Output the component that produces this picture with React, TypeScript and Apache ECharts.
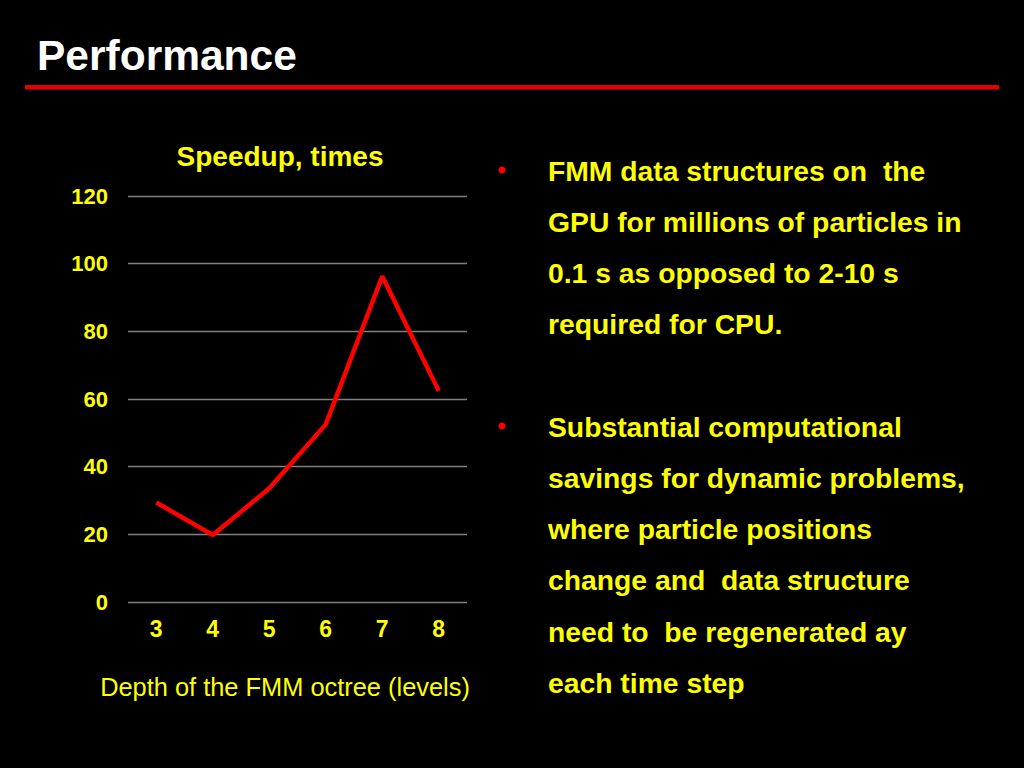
import React, { useEffect, useRef } from "react";
import * as echarts from "echarts";

const categories = ["3", "4", "5", "6", "7", "8"];
const speedup = [29.4, 19.8, 33.6, 52.5, 96.3, 62.4];
const yTicks = { min: 0, max: 120, interval: 20 };

const pageTitle = "Performance";
const chartTitle = "Speedup, times";
const xAxisTitle = "Depth of the FMM octree (levels)";
const bullet1 = [
  "FMM data structures on  the",
  "GPU for millions of particles in",
  "0.1 s as opposed to 2-10 s",
  "required for CPU.",
];
const bullet2 = [
  "Substantial computational",
  "savings for dynamic problems,",
  "where particle positions",
  "change and  data structure",
  "need to  be regenerated ay",
  "each time step",
];

const FONT = '"Liberation Sans", Arial, Helvetica, sans-serif';
const YELLOW = "#ffff00";

export default function App() {
  const ref = useRef<HTMLDivElement>(null);

  useEffect(() => {
    document.body.style.margin = "0";
    document.body.style.background = "#000";
    const chart = echarts.init(ref.current!, undefined, { renderer: "svg" });

    const lineStep = 51.3;
    const bulletTexts: any[] = [];
    bullet1.forEach((t, i) => {
      bulletTexts.push({
        type: "text",
        x: 548,
        y: 170.5 + i * lineStep,
        style: { text: t, fill: YELLOW, font: `bold 28.3px ${FONT}`, textAlign: "left", textVerticalAlign: "middle" },
      });
    });
    bullet2.forEach((t, i) => {
      bulletTexts.push({
        type: "text",
        x: 548,
        y: 426.5 + i * lineStep,
        style: { text: t, fill: YELLOW, font: `bold 28.3px ${FONT}`, textAlign: "left", textVerticalAlign: "middle" },
      });
    });

    chart.setOption({
      animation: false,
      backgroundColor: "#000000",
      grid: { left: 128, right: 1024 - 467, top: 196, bottom: 768 - 602, containLabel: false },
      xAxis: {
        type: "category",
        data: categories,
        boundaryGap: true,
        axisLine: { show: false },
        axisTick: { show: false },
        axisLabel: { color: YELLOW, fontWeight: "bold", fontSize: 23, fontFamily: FONT, margin: 15 },
      },
      yAxis: {
        type: "value",
        min: yTicks.min,
        max: yTicks.max,
        interval: yTicks.interval,
        axisLine: { show: false },
        axisTick: { show: false },
        axisLabel: { color: YELLOW, fontWeight: "bold", fontSize: 22, fontFamily: FONT, margin: 20 },
        splitLine: { show: true, lineStyle: { color: "#808080", width: 1.3 } },
      },
      series: [
        {
          type: "line",
          data: speedup,
          symbol: "none",
          lineStyle: { color: "#ff0000", width: 4.5 },
        },
      ],
      graphic: [
        {
          type: "text",
          x: 37,
          y: 55,
          style: { text: pageTitle, fill: "#ffffff", font: `bold 42.5px ${FONT}`, textAlign: "left", textVerticalAlign: "middle" },
        },
        {
          type: "rect",
          shape: { x: 25, y: 85, width: 974, height: 4.5 },
          style: { fill: "#e60000" },
        },
        {
          type: "text",
          x: 280,
          y: 156,
          style: { text: chartTitle, fill: YELLOW, font: `bold 28px ${FONT}`, textAlign: "center", textVerticalAlign: "middle" },
        },
        {
          type: "text",
          x: 285,
          y: 687,
          style: { text: xAxisTitle, fill: YELLOW, font: `25.4px ${FONT}`, textAlign: "center", textVerticalAlign: "middle" },
        },
        { type: "circle", shape: { cx: 502, cy: 170, r: 3.5 }, style: { fill: "#ff0000" } },
        { type: "circle", shape: { cx: 502, cy: 426, r: 3.5 }, style: { fill: "#ff0000" } },
        ...bulletTexts,
      ],
    });

    return () => chart.dispose();
  }, []);

  return (
    <div
      ref={ref}
      style={{ position: "fixed", left: 0, top: 0, width: 1024, height: 768, background: "#000" }}
    />
  );
}
